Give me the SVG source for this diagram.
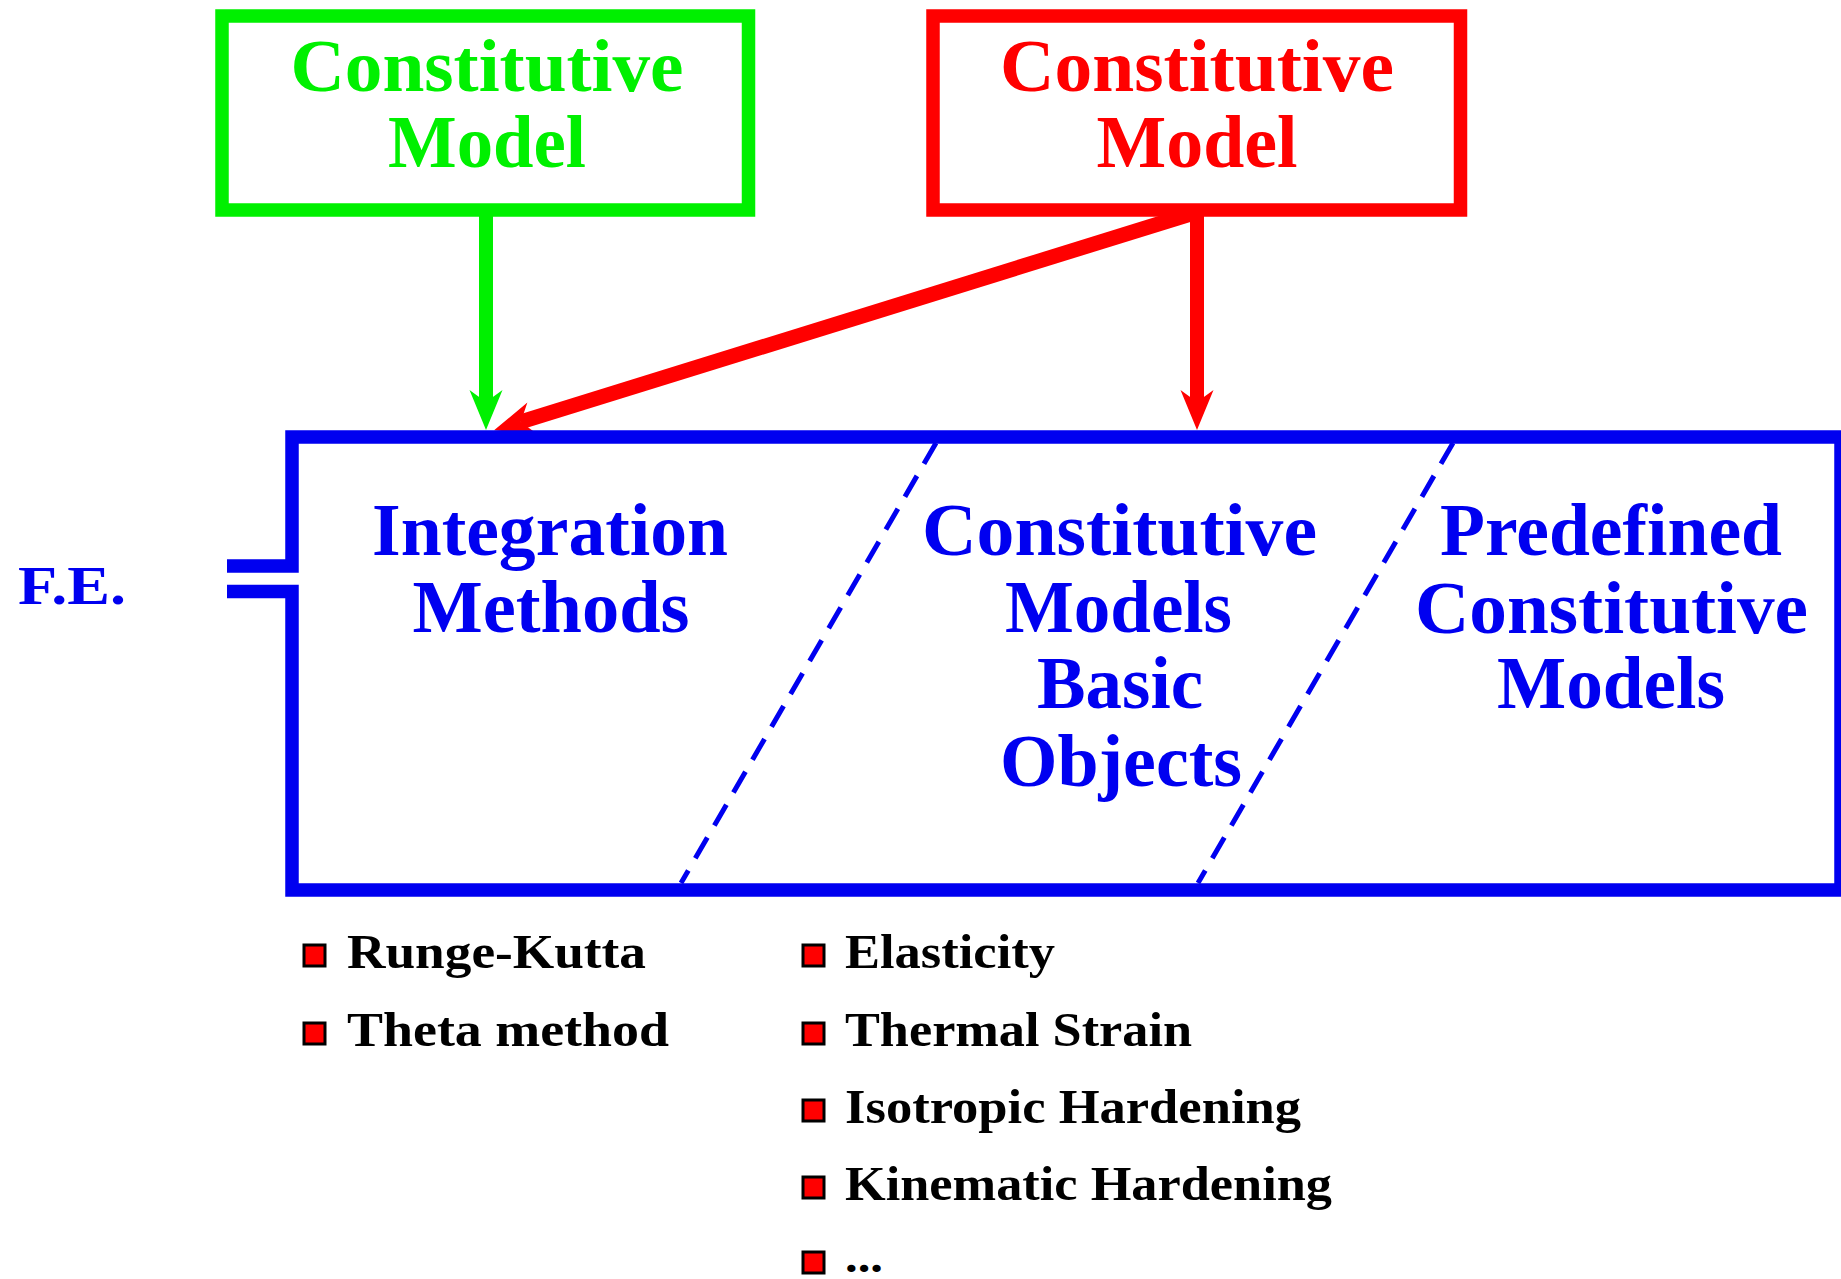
<svg xmlns="http://www.w3.org/2000/svg" width="1841" height="1279" viewBox="0 0 1841 1279">
<style>
.big{font-family:"Liberation Serif","Times New Roman",serif;font-weight:bold;font-size:73px;text-anchor:middle}
.g{fill:#00f000}
.r{fill:#ff0000}
.b{fill:#0000f0}
.item{font-family:"Liberation Serif","Times New Roman",serif;font-weight:bold;font-size:48px;fill:#000}
.bullet{fill:#ff0000;stroke:#000;stroke-width:3}
.frame{fill:none;stroke-width:13.5;stroke-linejoin:miter}
.conn{fill:none;stroke-width:14;stroke-linecap:butt}
.dash{fill:none;stroke:#0000f0;stroke-width:5;stroke-dasharray:24 14}
</style>
<defs>
<marker id="headG" markerUnits="userSpaceOnUse" orient="auto" refX="0" refY="0" markerWidth="60" markerHeight="60" overflow="visible">
<path d="M28,0 L-12,-16.5 L0,0 L-12,16.5 Z" fill="#00f000"/>
</marker>
<marker id="headR" markerUnits="userSpaceOnUse" orient="auto" refX="0" refY="0" markerWidth="60" markerHeight="60" overflow="visible">
<path d="M28,0 L-12,-16.5 L0,0 L-12,16.5 Z" fill="#ff0000"/>
</marker>
</defs>
<rect width="1841" height="1279" fill="#fff"/>

<g id="green-model">
<rect class="frame" x="222" y="16" width="526.5" height="194" stroke="#00f000"/>
<text class="big g" x="487" y="91" textLength="393" lengthAdjust="spacingAndGlyphs">Constitutive</text>
<text class="big g" x="487" y="167" textLength="198" lengthAdjust="spacingAndGlyphs">Model</text>
</g>

<g id="red-model">
<rect class="frame" x="933" y="16" width="527.5" height="194" stroke="#ff0000"/>
<text class="big r" x="1197" y="91" textLength="394" lengthAdjust="spacingAndGlyphs">Constitutive</text>
<text class="big r" x="1197" y="167" textLength="201" lengthAdjust="spacingAndGlyphs">Model</text>
</g>

<g id="connectors">
<line class="conn" x1="486" y1="210" x2="486" y2="402" stroke="#00f000" marker-end="url(#headG)"/>
<line class="conn" x1="1197" y1="210" x2="1197" y2="402" stroke="#ff0000" marker-end="url(#headR)"/>
<line class="conn" x1="1197" y1="212" x2="520.8" y2="421.9" stroke="#ff0000" style="stroke-width:15" marker-end="url(#headR)"/>
</g>

<g id="fe-label">
<text class="big b" x="18" y="604" style="font-size:55px;text-anchor:start" textLength="108" lengthAdjust="spacingAndGlyphs">F.E.</text>
</g>

<g id="fe-box">
<path class="frame" d="M227,566 H292 V437 H1841 V890 H292 V591.5 H227" stroke="#0000f0"/>
<line class="dash" x1="936" y1="443" x2="681" y2="883"/>
<line class="dash" x1="1453" y1="443" x2="1198" y2="883"/>
</g>

<g id="integration-methods">
<text class="big b" x="550" y="555" textLength="356" lengthAdjust="spacingAndGlyphs">Integration</text>
<text class="big b" x="551" y="632" textLength="277" lengthAdjust="spacingAndGlyphs">Methods</text>
</g>

<g id="basic-objects">
<text class="big b" x="1119.5" y="555" textLength="395" lengthAdjust="spacingAndGlyphs">Constitutive</text>
<text class="big b" x="1118.5" y="632" textLength="227" lengthAdjust="spacingAndGlyphs">Models</text>
<text class="big b" x="1120" y="708" textLength="166" lengthAdjust="spacingAndGlyphs">Basic</text>
<text class="big b" x="1121" y="786" textLength="242" lengthAdjust="spacingAndGlyphs">Objects</text>
</g>

<g id="predefined-models">
<text class="big b" x="1611" y="555" textLength="342" lengthAdjust="spacingAndGlyphs">Predefined</text>
<text class="big b" x="1611.5" y="633" textLength="393" lengthAdjust="spacingAndGlyphs">Constitutive</text>
<text class="big b" x="1611" y="708" textLength="228" lengthAdjust="spacingAndGlyphs">Models</text>
</g>

<g id="list-integration">
<rect class="bullet" x="304" y="945" width="21" height="21"/>
<text class="item" x="347" y="968" textLength="299" lengthAdjust="spacingAndGlyphs">Runge-Kutta</text>
<rect class="bullet" x="304" y="1023" width="21" height="21"/>
<text class="item" x="347" y="1046" textLength="322" lengthAdjust="spacingAndGlyphs">Theta method</text>
</g>

<g id="list-basic">
<rect class="bullet" x="803" y="945" width="21" height="21"/>
<text class="item" x="845" y="968" textLength="210" lengthAdjust="spacingAndGlyphs">Elasticity</text>
<rect class="bullet" x="803" y="1023" width="21" height="21"/>
<text class="item" x="845" y="1046" textLength="347" lengthAdjust="spacingAndGlyphs">Thermal Strain</text>
<rect class="bullet" x="803" y="1100" width="21" height="21"/>
<text class="item" x="845" y="1123" textLength="456" lengthAdjust="spacingAndGlyphs">Isotropic Hardening</text>
<rect class="bullet" x="803" y="1177" width="21" height="21"/>
<text class="item" x="845" y="1200" textLength="487" lengthAdjust="spacingAndGlyphs">Kinematic Hardening</text>
<rect class="bullet" x="803" y="1252" width="21" height="21"/>
<text class="item" x="845" y="1272" style="font-size:44px" textLength="38" lengthAdjust="spacingAndGlyphs">...</text>
</g>
</svg>
